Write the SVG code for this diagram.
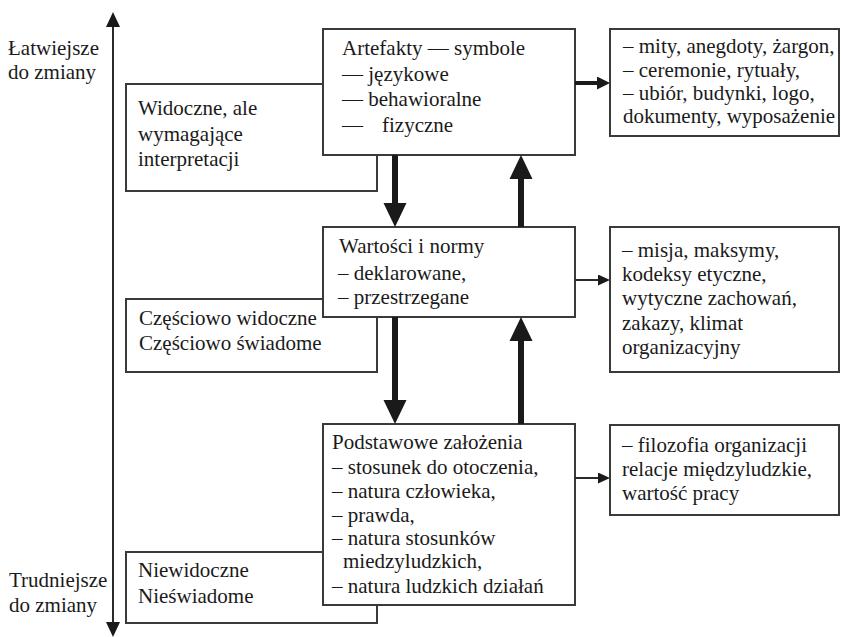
<svg xmlns="http://www.w3.org/2000/svg" width="841" height="637" viewBox="0 0 841 637">
<style>
  text { font-family: "Liberation Serif", "Tinos", "DejaVu Serif", serif; font-size: 21px; fill: #1a1a1a; }
  .box { fill: #fff; stroke: #3a3a3a; stroke-width: 2; }
  .thick { stroke: #1a1a1a; stroke-width: 6; fill: none; }
  .med { stroke: #1a1a1a; stroke-width: 4; fill: none; }
  .thin { stroke: #2a2a2a; stroke-width: 2; fill: none; }
</style>
<defs>
  <marker id="headBig" markerUnits="userSpaceOnUse" markerWidth="24" markerHeight="24" refX="0" refY="11.5" orient="auto" viewBox="0 0 24 23">
    <path d="M0,0 L24,11.5 L0,23 z" fill="#1a1a1a"/>
  </marker>
  <marker id="headMid" markerUnits="userSpaceOnUse" markerWidth="13" markerHeight="13" refX="0" refY="6.5" orient="auto" viewBox="0 0 13 13">
    <path d="M0,0 L13,6.5 L0,13 z" fill="#1a1a1a"/>
  </marker>
  <marker id="headSmall" markerUnits="userSpaceOnUse" markerWidth="12" markerHeight="11" refX="0" refY="5.5" orient="auto" viewBox="0 0 12 11">
    <path d="M0,0 L12,5.5 L0,11 z" fill="#1a1a1a"/>
  </marker>
  <marker id="headAxis" markerUnits="userSpaceOnUse" markerWidth="15" markerHeight="14" refX="0" refY="7" orient="auto" viewBox="0 0 15 14">
    <path d="M0,0 L15,7 L0,14 z" fill="#1a1a1a"/>
  </marker>
</defs>

<g id="axis">
  <line x1="113" y1="320" x2="113" y2="27" class="thin" marker-end="url(#headAxis)"/>
  <line x1="113" y1="320" x2="113" y2="622" class="thin" marker-end="url(#headAxis)"/>
  <text x="8" y="55">Łatwiejsze</text>
  <text x="8" y="79">do zmiany</text>
  <text x="9" y="587">Trudniejsze</text>
  <text x="9" y="612">do zmiany</text>
</g>

<g id="widoczne">
  <rect class="box" x="126" y="84" width="251" height="107"/>
  <text x="138" y="115">Widoczne, ale</text>
  <text x="138" y="141">wymagające</text>
  <text x="138" y="166">interpretacji</text>
</g>
<g id="czesciowo">
  <rect class="box" x="126" y="299" width="251" height="73"/>
  <text x="139" y="325">Częściowo widoczne</text>
  <text x="139" y="350">Częściowo świadome</text>
</g>
<g id="niewidoczne">
  <rect class="box" x="126" y="552" width="251" height="71"/>
  <text x="138" y="577">Niewidoczne</text>
  <text x="138" y="603">Nieświadome</text>
</g>

<g id="artefakty">
  <rect class="box" x="323" y="29" width="252" height="126"/>
  <text x="342" y="55">Artefakty — symbole</text>
  <text x="342" y="81">— językowe</text>
  <text x="342" y="106">— behawioralne</text>
  <text x="342" y="132">—<tspan x="382">fizyczne</tspan></text>
</g>
<g id="wartosci">
  <rect class="box" x="323" y="227" width="252" height="90"/>
  <text x="339" y="253">Wartości i normy</text>
  <text x="338" y="280">– deklarowane,</text>
  <text x="338" y="304">– przestrzegane</text>
</g>
<g id="zalozenia">
  <rect class="box" x="323" y="424" width="252" height="181"/>
  <text x="332" y="449">Podstawowe założenia</text>
  <text x="332" y="474">– stosunek do otoczenia,</text>
  <text x="332" y="498">– natura człowieka,</text>
  <text x="332" y="522">– prawda,</text>
  <text x="332" y="545">– natura stosunków</text>
  <text x="343" y="568">miedzyludzkich,</text>
  <text x="332" y="593">– natura ludzkich działań</text>
</g>

<g id="przyklady-artefakty">
  <rect class="box" x="610" y="29" width="229" height="107"/>
  <text x="623" y="53">– mity, anegdoty, żargon,</text>
  <text x="623" y="77">– ceremonie, rytuały,</text>
  <text x="623" y="100">– ubiór, budynki, logo,</text>
  <text x="623" y="123">dokumenty, wyposażenie</text>
</g>
<g id="przyklady-wartosci">
  <rect class="box" x="610" y="227" width="229" height="145"/>
  <text x="622" y="257">– misja, maksymy,</text>
  <text x="622" y="281">kodeksy etyczne,</text>
  <text x="622" y="305">wytyczne zachowań,</text>
  <text x="622" y="330">zakazy, klimat</text>
  <text x="622" y="354">organizacyjny</text>
</g>
<g id="przyklady-zalozenia">
  <rect class="box" x="610" y="425" width="229" height="90"/>
  <text x="622" y="452">– filozofia organizacji</text>
  <text x="622" y="476">relacje międzyludzkie,</text>
  <text x="622" y="500">wartość pracy</text>
</g>

<g id="connectors">
  <line x1="395" y1="155" x2="395" y2="203" class="thick" marker-end="url(#headBig)"/>
  <line x1="521" y1="227" x2="521" y2="179" class="thick" marker-end="url(#headBig)"/>
  <line x1="395" y1="317" x2="395" y2="400" class="thick" marker-end="url(#headBig)"/>
  <line x1="521" y1="424" x2="521" y2="341" class="thick" marker-end="url(#headBig)"/>
  <line x1="575" y1="83" x2="597" y2="83" class="med" marker-end="url(#headMid)"/>
  <line x1="575" y1="280" x2="598" y2="280" class="thin" marker-end="url(#headSmall)"/>
  <line x1="575" y1="478" x2="598" y2="478" class="thin" marker-end="url(#headSmall)"/>
</g>
</svg>
